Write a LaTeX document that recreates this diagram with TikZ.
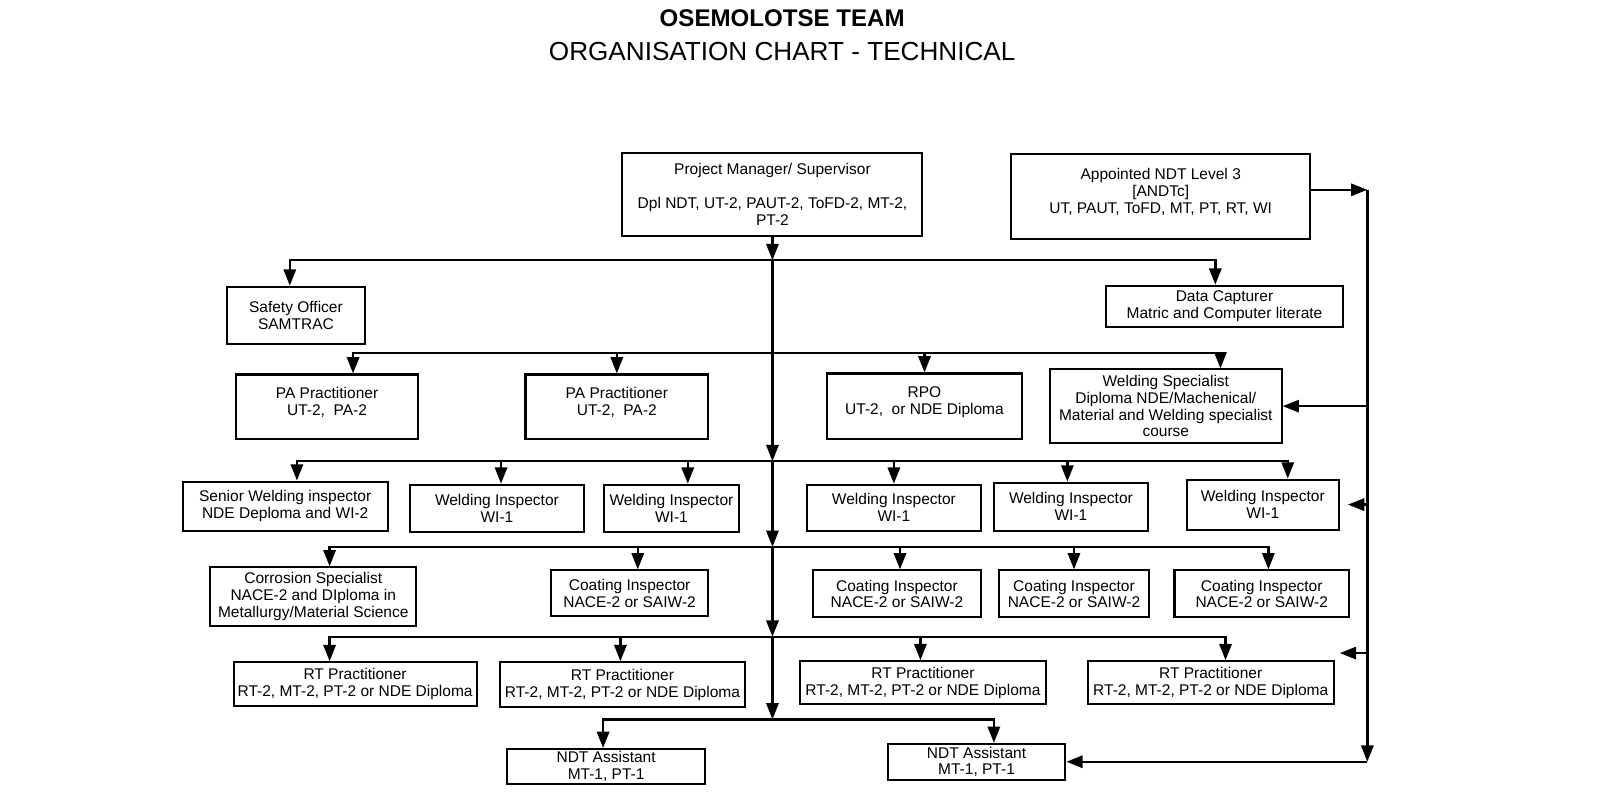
\documentclass[tikz,border=0pt]{standalone}
\usepackage{fontspec}
\setmainfont{Liberation Sans}
\usetikzlibrary{arrows.meta,calc}

\begin{document}
\begin{tikzpicture}[
  x=0.5pt, y=-0.5pt,
  box/.style={rectangle, draw=black, line width=1pt, align=center, inner sep=1pt,
              font=\fontsize{7.6}{8.2}\selectfont},
  up/.style={text depth=5.5pt},
  arr/.style={-{Triangle[length=8pt,width=6pt]}, line width=1.2pt},
  line/.style={line width=1.2pt}
]
\useasboundingbox (0,0) rectangle (1568,784);

\node[font=\bfseries\fontsize{11.8}{13}\selectfont] (title) at (766.5,18) {OSEMOLOTSE TEAM};
\node[font=\fontsize{12.8}{14}\selectfont] (subtitle) at (766.5,50) {ORGANISATION CHART - TECHNICAL};

\node[box, minimum width=147pt, minimum height=40.5pt] (pm) at (757,190.5)
  {Project Manager/ Supervisor\\[8.2pt] Dpl NDT, UT-2, PAUT-2, ToFD-2, MT-2,\\ PT-2};
\node[box, up, minimum width=146.5pt, minimum height=41.5pt] (ndt3) at (1137.5,192.5)
  {Appointed NDT Level 3\\ {[ANDTc]}\\ UT, PAUT, ToFD, MT, PT, RT, WI};
\node[box, minimum width=68pt, minimum height=28pt] (safety) at (290,309)
  {Safety Officer\\ SAMTRAC};
\node[box, minimum width=116pt, minimum height=20pt] (capt) at (1200,300)
  {Data Capturer\\ Matric and Computer literate};

\node[box, up, minimum width=89.5pt, minimum height=31.5pt] (pa1) at (320.5,398.5)
  {PA Practitioner\\ UT-2,\ \ PA-2};
\node[box, up, minimum width=89.5pt, minimum height=31.5pt] (pa2) at (604.5,398.5)
  {PA Practitioner\\ UT-2,\ \ PA-2};
\node[box, up, minimum width=96pt, minimum height=32pt] (rpo) at (906,398)
  {RPO\\ UT-2,\ \ or NDE Diploma};
\node[box, minimum width=113.5pt, minimum height=36pt] (wspec) at (1142.5,398)
  {Welding Specialist\\ Diploma NDE/Machenical/\\ Material and Welding specialist\\ course};

\node[box, minimum width=100.5pt, minimum height=24pt] (swi) at (279.5,496)
  {Senior Welding inspector\\ NDE Deploma and WI-2};
\node[box, minimum width=85pt, minimum height=23pt] (wi1) at (487,498) {Welding Inspector\\ WI-1};
\node[box, minimum width=66pt, minimum height=23pt] (wi2) at (658,498) {Welding Inspector\\ WI-1};
\node[box, minimum width=85pt, minimum height=22.5pt] (wi3) at (876,497.5) {Welding Inspector\\ WI-1};
\node[box, minimum width=75.5pt, minimum height=23.5pt] (wi4) at (1049.5,496.5) {Welding Inspector\\ WI-1};
\node[box, minimum width=74.5pt, minimum height=24.5pt] (wi5) at (1237.5,494.5) {Welding Inspector\\ WI-1};

\node[box, minimum width=101pt, minimum height=28.5pt] (corr) at (307,584.5)
  {Corrosion Specialist\\ NACE-2 and DIploma in\\ Metallurgy/Material Science};
\node[box, minimum width=77pt, minimum height=22.5pt] (coat1) at (617,581.5) {Coating Inspector\\ NACE-2 or SAIW-2};
\node[box, minimum width=82pt, minimum height=23pt] (coat2) at (879,582) {Coating Inspector\\ NACE-2 or SAIW-2};
\node[box, minimum width=73.5pt, minimum height=23pt] (coat3) at (1052.5,582) {Coating Inspector\\ NACE-2 or SAIW-2};
\node[box, minimum width=85.5pt, minimum height=23pt] (coat4) at (1236.5,582) {Coating Inspector\\ NACE-2 or SAIW-2};

\node[box, minimum width=119pt, minimum height=21.5pt] (rt1) at (348,670.5) {RT Practitioner\\ RT-2, MT-2, PT-2 or NDE Diploma};
\node[box, minimum width=120pt, minimum height=22pt] (rt2) at (610,671) {RT Practitioner\\ RT-2, MT-2, PT-2 or NDE Diploma};
\node[box, minimum width=120.5pt, minimum height=21pt] (rt3) at (904.5,669) {RT Practitioner\\ RT-2, MT-2, PT-2 or NDE Diploma};
\node[box, minimum width=120.5pt, minimum height=21pt] (rt4) at (1186.5,669) {RT Practitioner\\ RT-2, MT-2, PT-2 or NDE Diploma};

\node[box, minimum width=97pt, minimum height=17pt] (asst1) at (594,751) {NDT Assistant\\ MT-1, PT-1};
\node[box, minimum width=87pt, minimum height=17.5pt] (asst2) at (957,746.5) {NDT Assistant\\ MT-1, PT-1};

\coordinate (busA) at (757,255);
\coordinate (busB) at (757,346);
\coordinate (busC) at (757,452);
\coordinate (busD) at (757,536);
\coordinate (busE) at (757,624);
\coordinate (busF) at (757,705);
\coordinate (rail) at (1340,0);

\draw[arr] (pm) -- (busA);
\draw[line] (busA) -- (busB);
\draw[arr] (busB) -- (busC);
\draw[arr] (busC) -- (busD);
\draw[arr] (busD) -- (busE);
\draw[arr] (busE) -- (busF);

\foreach \n/\s in {safety/-3, capt/-4.5}
  \draw[arr] (busA) -| ([xshift=\s pt]\n.north);
\foreach \n/\s in {pa1/12.75, pa2/0, rpo/0, wspec/26.75}
  \draw[arr] (busB) -| ([xshift=\s pt]\n.north);
\foreach \n/\s in {swi/5.75, wi1/2, wi2/8, wi3/0, wi4/-1.75, wi5/12.25}
  \draw[arr] (busC) -| ([xshift=\s pt]\n.north);
\foreach \n/\s in {corr/8, coat1/4, coat2/1.5, coat3/0, coat4/3.25}
  \draw[arr] (busD) -| ([xshift=\s pt]\n.north);
\foreach \n/\s in {rt1/-12.5, rt2/-1, rt3/-1.25, rt4/7.25}
  \draw[arr] (busE) -| ([xshift=\s pt]\n.north);
\foreach \n/\s in {asst1/-1.5, asst2/8.5}
  \draw[arr] (busF) -| ([xshift=\s pt]\n.north);

\coordinate (n3o) at ($(ndt3.east)+(0,-6.5)$);
\coordinate (r4) at ([xshift=2.5pt,yshift=3.5pt]rt4.north east);
\draw[arr] (n3o) -- (n3o -| rail);
\draw[arr] (n3o -| rail) -- (rail |- asst2.east);
\draw[arr] (rail |- asst2.east) -- (asst2.east);
\draw[arr] (rail |- wspec.east) -- (wspec.east);
\draw[arr] (rail |- wi5.east) -- ([xshift=4pt]wi5.east);
\draw[arr] (r4 -| rail) -- (r4);
\end{tikzpicture}
\end{document}
